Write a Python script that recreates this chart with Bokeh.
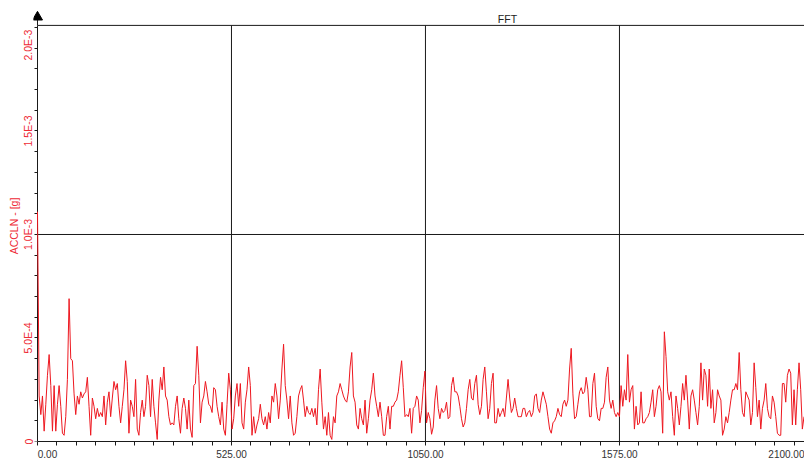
from bokeh.plotting import figure
from bokeh.models import (FixedTicker, CustomJSTickFormatter, Label, Range1d, LinearAxis)
from bokeh.embed import file_html
from bokeh.resources import INLINE

# ---- data (FFT amplitude, units of 1e-4 g, bins every 4.5 Hz) ----
FREQ_STEP = 4.5
amp_e4 = [
    11.1, 2.2, 1.3, 2.2, 0.5, 1.8, 3.2, 4.2, 2.7, 0.5,
    2.7, 0.5, 1.8, 2.7, 1.7, 0.4, 0.3, 1.2, 3.0, 6.9,
    4.0, 3.9, 2.3, 1.3, 2.2, 1.8, 2.4, 2.1, 2.3, 2.4,
    3.1, 1.7, 0.3, 2.1, 1.7, 1.1, 1.6, 1.2, 1.4, 1.2,
    2.2, 0.8, 1.9, 2.4, 1.2, 2.1, 2.9, 2.5, 2.8, 1.7,
    0.9, 1.7, 2.5, 3.9, 2.9, 0.4, 2.0, 1.7, 1.2, 3.0,
    0.6, 0.3, 1.4, 2.0, 1.2, 1.7, 3.2, 2.7, 1.2, 3.0,
    1.7, 0.9, 0.1, 2.0, 3.1, 2.5, 3.6, 2.2, 2.0, 1.2,
    0.8, 0.9, 0.8, 1.7, 2.2, 1.1, 0.4, 1.6, 2.1, 1.6,
    0.6, 2.0, 0.6, 0.2, 2.7, 2.8, 4.6, 3.2, 0.9, 1.9,
    2.2, 2.9, 2.4, 1.8, 1.7, 1.4, 2.6, 2.5, 1.7, 1.2,
    0.8, 1.9, 0.6, 0.3, 1.8, 3.3, 2.5, 0.6, 1.1, 2.2,
    2.8, 1.7, 2.8, 0.9, 0.6, 1.9, 2.5, 3.6, 2.7, 0.3,
    1.2, 0.4, 0.8, 1.1, 1.8, 1.1, 0.8, 1.2, 0.6, 1.4,
    0.9, 2.2, 1.9, 2.8, 2.2, 1.1, 2.0, 3.5, 4.7, 2.7,
    2.0, 1.1, 2.2, 0.9, 0.3, 0.4, 1.2, 2.2, 2.5, 2.7,
    2.0, 1.2, 1.7, 1.4, 1.3, 1.6, 1.2, 1.6, 0.8, 2.5,
    3.5, 1.9, 0.6, 1.2, 0.3, 1.4, 0.3, 0.1, 1.2, 0.9,
    2.2, 2.4, 2.8, 2.5, 2.2, 2.0, 1.9, 2.4, 3.6, 4.3,
    2.2, 1.9, 0.8, 0.6, 1.6, 1.1, 0.8, 2.0, 0.4, 1.1,
    2.0, 2.5, 3.3, 2.2, 1.7, 1.2, 1.9, 1.2, 0.3, 0.3,
    1.2, 1.7, 0.6, 1.7, 1.7, 1.9, 2.0, 2.4, 3.2, 3.9,
    2.6, 1.2, 1.3, 1.2, 1.6, 0.4, 1.6, 1.7, 2.2, 2.0,
    0.9, 1.5, 2.6, 3.4, 0.9, 1.4, 1.1, 0.35, 0.7, 2.0,
    2.7, 1.6, 1.1, 1.6, 1.4, 1.5, 1.9, 1.1, 1.2, 2.7,
    3.1, 2.4, 2.4, 2.2, 1.7, 1.1, 0.7, 0.9, 1.6, 2.5,
    3.0, 2.1, 2.0, 2.8, 3.2, 1.8, 1.3, 1.7, 3.0, 3.6,
    2.4, 1.1, 1.6, 2.8, 3.3, 0.9, 0.9, 1.6, 1.2, 1.4,
    1.6, 1.2, 2.1, 3.0, 2.1, 1.4, 1.6, 2.1, 1.6, 1.2,
    1.2, 1.2, 1.6, 1.6, 1.2, 1.4, 1.5, 1.2, 1.4, 2.2,
    2.3, 1.6, 1.4, 2.0, 2.4, 2.1, 1.8, 1.2, 0.6, 0.4,
    0.9, 1.0, 1.2, 1.6, 1.3, 1.2, 1.8, 2.0, 1.7, 2.0,
    3.5, 4.5, 2.3, 1.1, 1.2, 1.8, 2.4, 2.6, 2.3, 2.4,
    3.1, 2.5, 1.2, 1.2, 2.8, 3.3, 1.7, 1.1, 1.0, 1.6,
    1.6, 1.9, 3.1, 3.6, 2.0, 1.6, 2.0, 1.4, 1.2, 1.4,
    1.2, 2.7, 1.7, 2.5, 2.0, 4.2, 1.9, 2.5, 2.7, 0.6,
    1.7, 0.8, 0.9, 2.4, 0.9, 0.9, 1.1, 1.2, 1.4, 1.9,
    2.5, 1.2, 1.7, 2.5, 2.7, 2.4, 0.4, 5.3, 4.1, 2.4,
    2.0, 2.4, 1.2, 0.3, 2.2, 1.6, 0.8, 1.7, 2.8, 2.0,
    3.2, 2.0, 0.6, 2.2, 2.5, 2.0, 1.4, 0.8, 1.7, 3.8,
    2.0, 3.5, 3.2, 1.7, 3.5, 1.6, 2.5, 0.9, 1.4, 2.5,
    2.2, 2.0, 0.3, 0.6, 1.2, 0.9, 1.4, 2.0, 2.5, 2.5,
    2.8, 2.5, 4.3, 2.5, 1.4, 1.2, 2.4, 2.2, 2.0, 0.8,
    1.4, 3.8, 2.6, 1.2, 2.0, 0.6, 1.6, 2.0, 2.8, 1.6,
    1.2, 1.1, 2.2, 1.9, 1.2, 0.4, 0.3, 0.3, 2.8, 2.8,
    1.9, 3.2, 3.5, 3.3, 0.8, 2.5, 0.8, 2.5, 3.8, 2.5,
    0.6, 1.2,
]
freq = [i * FREQ_STEP for i in range(len(amp_e4))]
amp = [a * 1e-4 for a in amp_e4]

# ---- axes / ticks ----
X_MAX = 2100.0
Y_TOP = 2.01e-3          # top frame line of the original chart
x_label_pos = [27, 525, 1050, 1575, 2027]      # end labels are justified inward
x_label_txt = ["0.00", "525.00", "1050.00", "1575.00", "2100.00"]
x_minor = [round(i * 52.5, 2) for i in range(41)]
x_grid = [525, 1050, 1575]
y_label_pos = [0, 5e-4, 1e-3, 1.5e-3, 1.915e-3]  # top label sits below the frame line
y_label_txt = ["0", "5.0E-4", "1.0E-3", "1.5E-3", "2.0E-3"]
y_minor = [round(i * 1e-4, 6) for i in range(21)]
y_grid = [1e-3, Y_TOP]

title_text = "FFT"
y_label_text = "ACCLN - [g]"

RED = "#ee2a35"
LINE_RED = "#ee1820"
FONT = "Liberation Sans"
INK = "#1a1a1a"

p = figure(width=804, height=460, output_backend="svg", toolbar_location=None,
           x_range=Range1d(-10.8, 2075.8), y_range=Range1d(0, 2.082e-3),
           min_border_left=33, min_border_right=0, min_border_top=10,
           min_border_bottom=18)
p.outline_line_color = None
p.background_fill_color = "white"
p.border_fill_color = "white"
p.xgrid.visible = False
p.ygrid.visible = False

# grid lines (bounded by the top frame line like the original)
p.segment(x0=x_grid, y0=[0] * len(x_grid), x1=x_grid, y1=[Y_TOP] * len(x_grid),
          line_color=INK, line_width=1)
p.segment(x0=[0] * len(y_grid), y0=y_grid, x1=[X_MAX] * len(y_grid), y1=y_grid,
          line_color=INK, line_width=1)

# y axis arrow above the frame line
p.segment(x0=[0], y0=[Y_TOP], x1=[0], y1=[2.07e-3], line_color=INK, line_width=1)
p.scatter(x=[0], y=[2.05e-3], marker="triangle", size=10,
          fill_color="black", line_color="black")

# data
r = p.line(freq, amp, line_color=LINE_RED, line_width=1)
r.level = "overlay"

# x axis
xa = p.xaxis[0]
xa.bounds = (0, X_MAX)
xa.ticker = FixedTicker(ticks=x_label_pos, minor_ticks=x_minor)
xa.formatter = CustomJSTickFormatter(args=dict(pos=x_label_pos, txt=x_label_txt), code="""
    const i = pos.findIndex((v) => Math.abs(v - tick) < 1e-6);
    return i >= 0 ? txt[i] : tick.toFixed(2);
""")
xa.axis_line_color = INK
xa.major_tick_line_color = INK
xa.minor_tick_line_color = INK
xa.major_tick_in = 0
xa.major_tick_out = 0
xa.minor_tick_in = 0
xa.minor_tick_out = 4
xa.major_label_standoff = 4
xa.major_label_text_font = FONT
xa.major_label_text_font_size = "10px"
xa.major_label_text_color = "#333333"

# y axis labels (regular axis at the frame edge, line and ticks hidden)
ya = p.yaxis[0]
ya.bounds = (0, Y_TOP)
ya.ticker = FixedTicker(ticks=y_label_pos, minor_ticks=[])
ya.formatter = CustomJSTickFormatter(args=dict(pos=y_label_pos, txt=y_label_txt), code="""
    const i = pos.findIndex((v) => Math.abs(v - tick) < 1e-12);
    return i >= 0 ? txt[i] : String(tick);
""")
ya.axis_line_color = None
ya.major_tick_line_color = None
ya.minor_tick_line_color = None
ya.major_tick_in = 0
ya.major_tick_out = 0
ya.minor_tick_in = 0
ya.minor_tick_out = 0
ya.major_label_standoff = -1
ya.major_label_orientation = "vertical"
ya.major_label_text_font = FONT
ya.major_label_text_font_size = "10.5px"
ya.major_label_text_color = RED
ya.axis_label = y_label_text
ya.axis_label_standoff = 0
ya.axis_label_text_font = FONT
ya.axis_label_text_font_size = "10.5px"
ya.axis_label_text_font_style = "normal"
ya.axis_label_text_color = RED

# y axis line and ticks, drawn at x = 0
yl = LinearAxis(fixed_location=0, bounds=(0, Y_TOP),
                ticker=FixedTicker(ticks=[], minor_ticks=y_minor))
yl.axis_line_color = INK
yl.minor_tick_line_color = INK
yl.major_tick_line_color = INK
yl.minor_tick_in = 0
yl.minor_tick_out = 3
yl.major_tick_in = 0
yl.major_tick_out = 3
yl.major_label_standoff = 0
p.add_layout(yl, "left")

# chart title (inside the frame, above the top frame line)
p.add_layout(Label(x=1272, y=2.043e-3, text=title_text,
                   text_align="center", text_baseline="middle",
                   text_font=FONT, text_font_size="10.5px", text_color="#222222"))

open("out.html", "w").write(file_html(p, INLINE))
